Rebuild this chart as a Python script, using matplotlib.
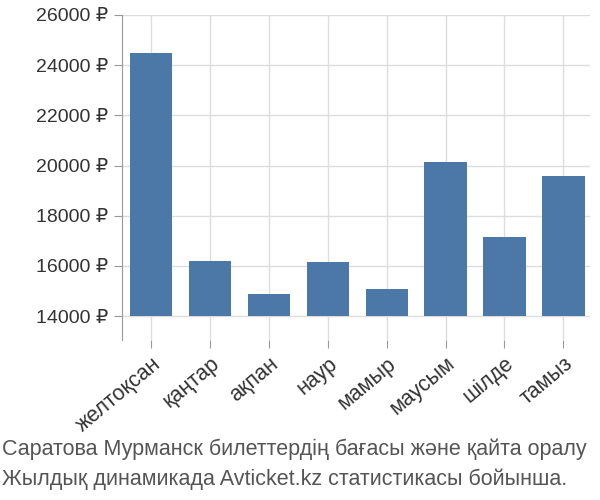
import matplotlib.pyplot as plt

months = ['желтоқсан', 'қаңтар', 'ақпан', 'наур', 'мамыр', 'маусым', 'шілде', 'тамыз']
prices = [24500, 16200, 14900, 16150, 15100, 20150, 17150, 19600]
yticks = [14000, 16000, 18000, 20000, 22000, 24000, 26000]
base = 14000

plt.rcParams['font.family'] = ['Liberation Sans', 'DejaVu Sans']
fig = plt.figure(figsize=(6, 5), dpi=100)
ax = fig.add_axes([0.203, 0.32, 0.78, 0.65])

x = range(len(months))
ax.bar(x, [p - base for p in prices], bottom=base, width=0.72, color='#4c78a8', zorder=3)
ax.set_xlim(-0.5, len(months) - 0.55)
ax.set_ylim(13050, 26000)
ax.set_yticks(yticks)
ax.set_yticklabels([f'{v} ₽' for v in yticks], fontsize=14, color='#333333')
ax.set_xticks(list(x))
ax.set_xticklabels(months, rotation=40, ha='right', rotation_mode='anchor', fontsize=15.5, color='#333333')
ax.grid(True, color='#dddddd', linewidth=1, zorder=0)
for s in ['top', 'right', 'bottom']:
    ax.spines[s].set_visible(False)
ax.spines['left'].set_color('#999999')
ax.tick_params(axis='both', length=6, color='#999999')

fig.text(0.003, 0.09, 'Саратова Мурманск билеттердің бағасы және қайта оралу', fontsize=15.5, color='#555555')
fig.text(0.003, 0.03, 'Жылдық динамикада Avticket.kz статистикасы бойынша.', fontsize=15.5, color='#555555')
fig.savefig('out.png')
